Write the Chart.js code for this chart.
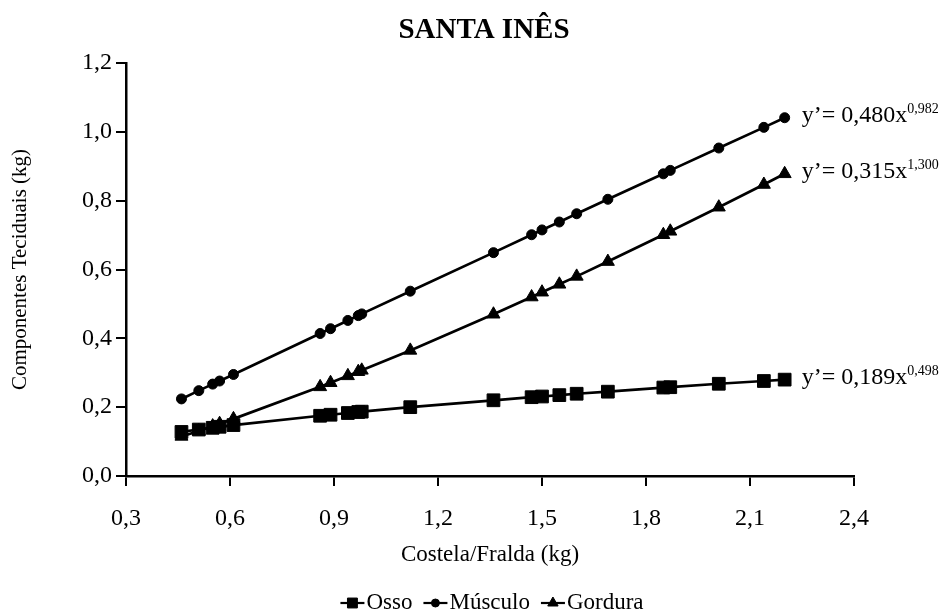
<!DOCTYPE html>
<html>
<head>
<meta charset="utf-8">
<script src="https://cdn.jsdelivr.net/npm/chart.js@4/dist/chart.umd.min.js"></script>
<style>
  html, body { margin: 0; padding: 0; background: #fff; }
  #wrap { width: 952px; height: 615px; }
</style>
</head>
<body>
<div id="wrap"><canvas id="c" width="952" height="615"></canvas></div>
<script>
// Costela/Fralda weight (kg) and predicted tissue weights (kg)
const costelaFralda = [0.46, 0.51, 0.55, 0.57, 0.61, 0.86, 0.89, 0.94, 0.97, 0.98, 1.12,
                       1.36, 1.47, 1.50, 1.55, 1.60, 1.69, 1.85, 1.87, 2.01, 2.14, 2.20];
const osso    = [0.128, 0.135, 0.140, 0.143, 0.148, 0.175, 0.178, 0.183, 0.186, 0.187, 0.200,
                 0.220, 0.229, 0.231, 0.235, 0.239, 0.245, 0.257, 0.258, 0.268, 0.276, 0.280];
const musculo = [0.224, 0.248, 0.267, 0.276, 0.295, 0.414, 0.428, 0.452, 0.466, 0.471, 0.537,
                 0.649, 0.701, 0.715, 0.738, 0.762, 0.804, 0.878, 0.888, 0.953, 1.013, 1.041];
const gordura = [0.115, 0.131, 0.145, 0.152, 0.166, 0.259, 0.271, 0.291, 0.303, 0.307, 0.365,
                 0.470, 0.520, 0.534, 0.557, 0.580, 0.623, 0.701, 0.711, 0.781, 0.847, 0.878];

const seriesNames = ['Osso', 'Músculo', 'Gordura'];
// allometric equations y' = a·x^b for each tissue
const eqCoef = ['0,189', '0,480', '0,315'];
const eqExp  = ['0,498', '0,982', '1,300'];

const xTicks = [0.3, 0.6, 0.9, 1.2, 1.5, 1.8, 2.1, 2.4];
const yTicks = [0.0, 0.2, 0.4, 0.6, 0.8, 1.0, 1.2];

const FONT = '"Liberation Serif", "Times New Roman", serif';
const pairs = ys => costelaFralda.map((x, i) => ({ x: x, y: ys[i] }));
const fmt = v => Number(v).toFixed(1).replace('.', ',');

const styles = [
  { pointStyle: 'rect', pointRadius: 9 },
  { pointStyle: 'circle', pointRadius: 5 },
  { pointStyle: 'triangle', pointRadius: 7.5 }
];
const values = [osso, musculo, gordura];

const datasets = seriesNames.map((name, i) => ({
  label: name,
  data: pairs(values[i]),
  borderColor: '#000',
  backgroundColor: '#000',
  borderWidth: 2.7,
  pointStyle: styles[i].pointStyle,
  pointRadius: styles[i].pointRadius,
  pointBorderWidth: 1,
  pointBackgroundColor: '#000',
  pointBorderColor: '#000',
  tension: 0,
  fill: false
}));

// title, regression equations and the bottom legend
const decorations = {
  id: 'decorations',
  afterDraw(chart) {
    const ctx = chart.ctx;
    ctx.save();
    ctx.fillStyle = '#000';
    ctx.strokeStyle = '#000';

    // title
    ctx.font = 'bold 29px ' + FONT;
    ctx.textAlign = 'center';
    ctx.textBaseline = 'middle';
    ctx.fillText('SANTA INÊS', 484, 31);

    // equations next to the last point of each series
    ctx.textAlign = 'left';
    ctx.textBaseline = 'alphabetic';
    chart.data.datasets.forEach((ds, i) => {
      const meta = chart.getDatasetMeta(i);
      const last = meta.data[meta.data.length - 1];
      const x0 = last.x + 17;
      const base = last.y + 4;
      ctx.font = '24px ' + FONT;
      const main = 'y\u2019= ' + eqCoef[i] + 'x';
      ctx.fillText(main, x0, base);
      const w = ctx.measureText(main).width;
      ctx.font = '14px ' + FONT;
      ctx.fillText(eqExp[i], x0 + w, base - 9);
    });

    // legend
    ctx.font = '23px ' + FONT;
    const lineLen = 24, gapAfterLine = 2, gapItems = 11;
    const widths = chart.data.datasets.map(ds => lineLen + gapAfterLine + ctx.measureText(ds.label).width);
    const total = widths.reduce((a, b) => a + b, 0) + gapItems * (widths.length - 1);
    let x = 492 - total / 2;
    const y = 603;
    const legendMarks = [
      { pointStyle: 'rect', radius: 7 },
      { pointStyle: 'circle', radius: 4 },
      { pointStyle: 'triangle', radius: 6 }
    ];
    chart.data.datasets.forEach((ds, i) => {
      ctx.lineWidth = 2.2;
      ctx.beginPath();
      ctx.moveTo(x, y);
      ctx.lineTo(x + lineLen, y);
      ctx.stroke();
      ctx.lineWidth = 1;
      Chart.helpers.drawPoint(ctx, { pointStyle: legendMarks[i].pointStyle, radius: legendMarks[i].radius, rotation: 0, borderWidth: 1 }, x + lineLen / 2, y);
      ctx.textAlign = 'left';
      ctx.textBaseline = 'middle';
      ctx.fillText(ds.label, x + lineLen + gapAfterLine, y);
      x += widths[i] + gapItems;
    });
    ctx.restore();
  }
};

new Chart(document.getElementById('c'), {
  type: 'line',
  data: { datasets: datasets },
  options: {
    responsive: false,
    animation: false,
    devicePixelRatio: 1,
    layout: { padding: { top: 63, right: 98, left: 0, bottom: 0 } },
    plugins: {
      legend: { display: false },
      title: { display: false },
      tooltip: { enabled: false }
    },
    scales: {
      x: {
        type: 'linear',
        min: 0.3,
        max: 2.4,
        afterBuildTicks: s => { s.ticks = xTicks.map(v => ({ value: v })); },
        afterFit: s => { s.height = 139; },
        ticks: {
          callback: v => fmt(v),
          color: '#000',
          padding: 18,
          maxRotation: 0,
          font: { family: FONT, size: 24 }
        },
        grid: { drawOnChartArea: false, drawTicks: true, tickLength: 10, color: '#000', lineWidth: 2 },
        border: { display: true, color: '#000', width: 2.5 },
        title: {
          display: true,
          text: 'Costela/Fralda (kg)',
          color: '#000',
          font: { family: FONT, size: 23 },
          padding: { top: 0, bottom: 46 }
        }
      },
      y: {
        type: 'linear',
        min: 0,
        max: 1.2,
        afterBuildTicks: s => { s.ticks = yTicks.map(v => ({ value: v })); },
        afterFit: s => { s.width = 126; },
        ticks: {
          callback: v => fmt(v),
          color: '#000',
          padding: 4,
          font: { family: FONT, size: 24 }
        },
        grid: { drawOnChartArea: false, drawTicks: true, tickLength: 10, color: '#000', lineWidth: 2 },
        border: { display: true, color: '#000', width: 2.5 },
        title: {
          display: true,
          text: 'Componentes Teciduais (kg)',
          color: '#000',
          font: { family: FONT, size: 21 },
          padding: { top: 8, bottom: 0 }
        }
      }
    }
  },
  plugins: [decorations]
});
</script>
</body>
</html>
